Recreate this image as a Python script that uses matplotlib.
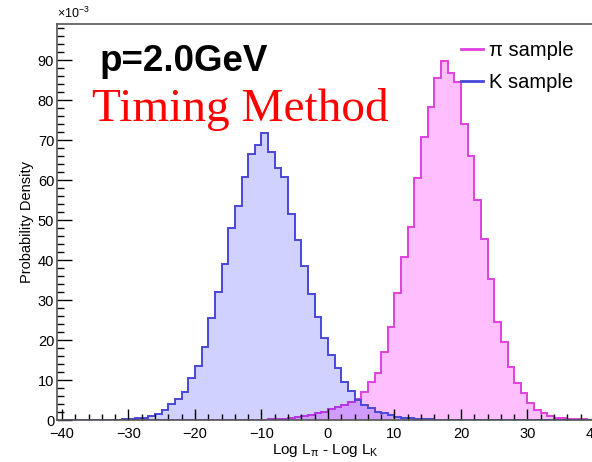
import numpy as np
import matplotlib.pyplot as plt
from matplotlib.ticker import MultipleLocator, FuncFormatter
from matplotlib.lines import Line2D

plt.rcParams['font.family'] = ['Liberation Sans', 'DejaVu Sans']
plt.rcParams['mathtext.fontset'] = 'custom'
plt.rcParams['mathtext.rm'] = 'Liberation Sans'
plt.rcParams['mathtext.it'] = 'Liberation Sans'

# 80 unit-width bins from -40 to 40, densities in units of 1e-3
bin_edges = np.arange(-40, 41)

pi_density = [
    0, 0, 0, 0, 0, 0, 0, 0, 0, 0,                        # -40 .. -31
    0, 0, 0, 0, 0, 0, 0, 0, 0, 0,                        # -30 .. -21
    0, 0, 0, 0, 0, 0, 0, 0, 0, 0,                        # -20 .. -11
    0.1, 0.15, 0.2, 0.3, 0.45, 0.7, 1.0, 1.3, 1.7, 2.1,  # -10 .. -1
    2.7, 3.2, 3.8, 4.4, 5.2, 7.0, 9.4, 11.7, 17.1, 23.3,  # 0 .. 9
    31.7, 40.7, 48.3, 60.6, 70.7, 78.3, 85.4, 89.7, 86.7, 84.4,  # 10 .. 19
    74.0, 66.0, 55.0, 45.2, 35.2, 24.6, 19.6, 13.3, 9.3, 6.7,    # 20 .. 29
    4.2, 2.5, 1.7, 1.1, 0.6, 0.5, 0.3, 0.2, 0.15, 0.1,           # 30 .. 39
]

k_density = [
    0, 0, 0, 0, 0, 0, 0.05, 0.1, 0.1, 0.2,               # -40 .. -31
    0.3, 0.4, 0.6, 0.9, 1.6, 2.5, 3.9, 5.2, 7.1, 10.5,    # -30 .. -21
    13.4, 18.3, 25.5, 32.0, 39.0, 48.0, 53.5, 60.7, 66.4, 68.7,  # -20 .. -11
    71.7, 67.0, 63.0, 60.8, 51.5, 45.0, 38.6, 31.4, 25.8, 20.4,  # -10 .. -1
    16.2, 12.9, 9.6, 7.3, 5.0, 3.75, 2.9, 2.1, 1.7, 1.25,        # 0 .. 9
    0.8, 0.6, 0.45, 0.3, 0.2, 0.15, 0.1, 0.05, 0, 0,             # 10 .. 19
    0, 0, 0, 0, 0, 0, 0, 0, 0, 0,                                # 20 .. 29
    0, 0, 0, 0, 0, 0, 0, 0, 0, 0,                                # 30 .. 39
]

pi_vals = np.array(pi_density) * 1e-3
k_vals = np.array(k_density) * 1e-3

pi_line = '#e040e0'
k_line = '#4848d8'

fig = plt.figure(figsize=(5.92, 4.62), dpi=100)
ax = fig.add_axes([57 / 592, 42 / 462, 537 / 592, 396 / 462])

ax.stairs(pi_vals, bin_edges, fill=True, color='magenta', alpha=0.25, lw=0)
ax.stairs(pi_vals, bin_edges, color=pi_line, lw=1.4)
ax.stairs(k_vals, bin_edges, fill=True, color='blue', alpha=0.18, lw=0)
ax.stairs(k_vals, bin_edges, color=k_line, lw=1.4)

ax.set_xlim(-40.75, 40)
ax.set_ylim(0, 0.099)

ax.xaxis.set_major_locator(MultipleLocator(10))
ax.xaxis.set_minor_locator(MultipleLocator(2))
ax.yaxis.set_major_locator(MultipleLocator(0.01))
ax.yaxis.set_minor_locator(MultipleLocator(0.002))
ax.yaxis.set_major_formatter(FuncFormatter(lambda v, p: f'{v * 1e3:.0f}'))
ax.xaxis.set_major_formatter(FuncFormatter(lambda v, p: f'{v:.0f}'.replace('-', '\u2212')))

ax.tick_params(axis='x', which='major', direction='in', length=8, width=1,
               labelsize=10.5, pad=5, top=False)
ax.tick_params(axis='x', which='minor', direction='in', length=4, width=1, top=False)
ax.tick_params(axis='y', which='major', direction='in', length=11, width=1,
               labelsize=10.5, pad=2, right=False)
ax.tick_params(axis='y', which='minor', direction='in', length=5, width=1, right=False)

for s in ax.spines.values():
    s.set_color('#555555')
    s.set_linewidth(1.2)

ax.set_xlabel(r'Log L$_{\pi}$ - Log L$_{\mathrm{K}}$', fontsize=11, labelpad=1)
ax.set_ylabel('Probability Density', fontsize=10.5, labelpad=2.5)
ax.text(0.0, 1.008, r'$\times$10$^{-3}$', transform=ax.transAxes,
        fontsize=9, ha='left', va='bottom')

ax.text(0.08, 0.905, 'p=2.0GeV', transform=ax.transAxes, fontsize=26.5,
        fontweight='bold', ha='left', va='center')
ax.text(0.065, 0.785, 'Timing Method', transform=ax.transAxes, fontsize=34,
        color='red', family='Liberation Serif', ha='left', va='center')

handles = [Line2D([], [], color=pi_line, lw=2), Line2D([], [], color=k_line, lw=2)]
ax.legend(handles, ['\u03c0 sample', 'K sample'], loc='upper left',
          bbox_to_anchor=(461 / 592, 1 - 41 / 462), bbox_transform=fig.transFigure,
          frameon=False, fontsize=14.5, handlelength=1.1, handletextpad=0.3,
          labelspacing=0.65, borderpad=0, borderaxespad=0)

fig.savefig('out.png', dpi=100)
